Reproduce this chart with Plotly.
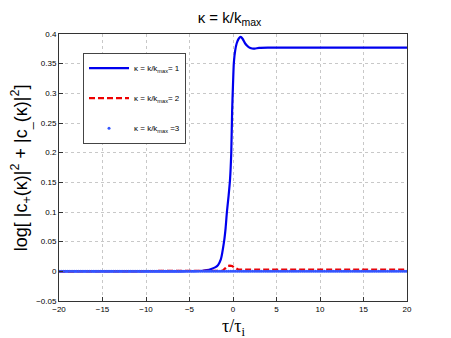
import plotly.graph_objects as go

tau1 = [-20, -10, -6, -4.5, -3.5, -3, -2.5, -2, -1.7, -1.4, -1.03, -0.85, -0.7, -0.5, -0.35, -0.2, -0.1, 0, 0.1, 0.25, 0.42, 0.65, 0.88, 1.1, 1.4, 1.8, 2.2, 2.5, 3, 4, 6, 10, 15, 20]
val1 = [0, 0, 0, 0.0003, 0.001, 0.002, 0.004, 0.007, 0.011, 0.02, 0.05, 0.073, 0.1, 0.128, 0.153, 0.2, 0.27, 0.315, 0.352, 0.372, 0.384, 0.392, 0.395, 0.392, 0.384, 0.378, 0.3755, 0.3755, 0.3765, 0.377, 0.377, 0.377, 0.377, 0.377]

tau2 = [-20, -10, -2, -1.2, -0.9, -0.6, -0.35, -0.1, 0.1, 0.3, 0.6, 1, 2, 5, 10, 20]
val2 = [0, 0, 0, 0.001, 0.005, 0.009, 0.0095, 0.009, 0.007, 0.005, 0.003, 0.003, 0.003, 0.003, 0.003, 0.003]

tau3 = [-20 + 0.25 * i for i in range(161)]
val3 = [0.0 for _ in tau3]

xticks = [-20, -15, -10, -5, 0, 5, 10, 15, 20]
yticks = [-0.05, 0, 0.05, 0.1, 0.15, 0.2, 0.25, 0.3, 0.35, 0.4]

fig = go.Figure()
fig.add_trace(go.Scatter(x=tau1, y=val1, mode="lines", line=dict(color="#0000ee", width=2.2, shape="spline", smoothing=0.6),
                         name="κ = k/k<sub>max</sub>= 1", legendgroup="a", legendrank=1))
fig.add_trace(go.Scatter(x=tau2, y=val2, mode="lines", line=dict(color="#ee0000", width=2.2, dash="6px,3px"),
                         name="κ = k/k<sub>max</sub>= 2", legendgroup="b", legendrank=2))
fig.add_trace(go.Scatter(x=tau3, y=val3, mode="markers",
                         marker=dict(color="#3355ff", size=3),
                         name="κ = k/k<sub>max</sub> =3", legendgroup="c", legendrank=3))

axis_common = dict(showline=True, linecolor="#333", linewidth=1, mirror=True,
                   ticks="inside", ticklen=4, tickcolor="#333", automargin=False,
                   showgrid=True, gridcolor="#c8c8c8", griddash="dot", gridwidth=1,
                   zeroline=False, tickfont=dict(size=8, family="Liberation Sans, Arial", color="#000"))

fig.update_layout(
    width=443, height=330,
    margin=dict(l=51, r=44, t=26, b=37),
    paper_bgcolor="white", plot_bgcolor="white",
    title=dict(text="κ = k/k<sub>max</sub>", x=0.5, xanchor="center", y=0.97, yanchor="middle",
               font=dict(size=15, family="Liberation Sans, Arial", color="#000")),
    xaxis=dict(range=[-20, 20], tickvals=xticks, ticktext=[str(v).replace("-", "−") for v in xticks],
               **axis_common),
    yaxis=dict(range=[-0.05, 0.4], tickvals=yticks, ticktext=["−0.05", "0", "0.05", "0.1", "0.15", "0.2", "0.25", "0.3", "0.35", "0.4"],
               **axis_common),
    legend=dict(x=0.069, y=0.93, xanchor="left", yanchor="top", bordercolor="#444", borderwidth=1,
                bgcolor="white", font=dict(size=8, family="Liberation Sans, Arial", color="#000"),
                traceorder="grouped", tracegroupgap=11, itemwidth=40),
    showlegend=True,
    annotations=[
        dict(text="τ/τ<sub>i</sub>", xref="paper", yref="paper", x=0.5, y=-0.048, xanchor="center", yanchor="top",
             showarrow=False, font=dict(size=18, family="Liberation Serif, Times", color="#000")),
        dict(text="log[ |c<sub>+</sub>(κ)|<sup>2</sup> + |c<sub>_</sub>(κ)|<sup>2</sup>]", xref="paper", yref="paper",
             x=-0.11, y=0.5, xanchor="center", yanchor="middle", textangle=-90,
             showarrow=False, font=dict(size=18, family="Liberation Sans, Arial", color="#000")),
    ],
)
fig.write_html("out.html")
